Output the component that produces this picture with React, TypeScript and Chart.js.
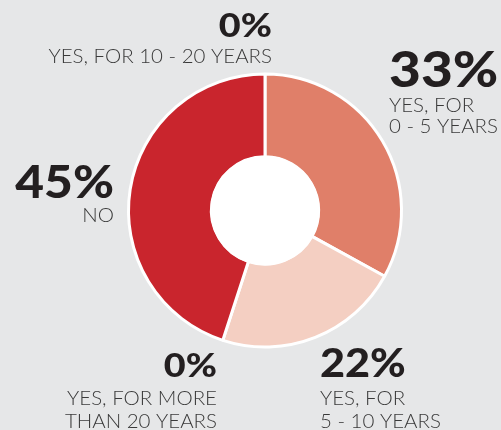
import React, { useEffect, useRef } from "react";
import { Chart, registerables } from "chart.js";

Chart.register(...registerables);

// Data (clockwise from 12 o'clock)
const categories = [
  "YES, FOR 0 - 5 YEARS",
  "YES, FOR 5 - 10 YEARS",
  "YES, FOR MORE THAN 20 YEARS",
  "NO",
  "YES, FOR 10 - 20 YEARS",
];
const values = [33, 22, 0, 45, 0];
const sliceColors = ["#e07f69", "#f4cfc2", "#cc2a30", "#c9252d", "#cc2a30"];
const labelLines = [
  ["YES, FOR", "0 - 5 YEARS"],
  ["YES, FOR", "5 - 10 YEARS"],
  ["YES, FOR MORE", "THAN 20 YEARS"],
  ["NO"],
  ["YES, FOR 10 - 20 YEARS"],
];

// Label placement relative to the doughnut centre (layout only)
const labelLayout = [
  { align: "left", dx: 124, dy: -123.5, num: 50, stretch: 1.1, lineDy: [25, 46] },
  { align: "left", dx: 55, dy: 166.5, num: 40, stretch: 1.08, lineDy: [28, 51] },
  { align: "right", dx: -48, dy: 166.5, num: 32, stretch: 1.18, lineDy: [28, 51] },
  { align: "right", dx: -151, dy: -12.5, num: 46, stretch: 1.08, lineDy: [24] },
  { align: "right", dx: 7, dy: -173.5, num: 32, stretch: 1.18, lineDy: [26] },
];

const BG = "#e6e7e8";

export default function App() {
  const ref = useRef<HTMLCanvasElement | null>(null);

  useEffect(() => {
    document.body.style.margin = "0";
    document.body.style.background = BG;
    const canvas = ref.current;
    if (!canvas) return;

    const bgPlugin = {
      id: "bg",
      beforeDraw(chart: any) {
        const { ctx, width, height } = chart;
        ctx.save();
        ctx.fillStyle = BG;
        ctx.fillRect(0, 0, width, height);
        ctx.restore();
      },
    };

    const labelPlugin = {
      id: "labels",
      afterDatasetsDraw(chart: any) {
        const meta = chart.getDatasetMeta(0);
        const arc = meta.data[0];
        if (!arc) return;
        const cx = arc.x;
        const cy = arc.y;
        const inner = meta.controller.innerRadius;
        const { ctx } = chart;
        ctx.save();
        // white hole
        ctx.beginPath();
        ctx.arc(cx, cy, inner + 1, 0, Math.PI * 2);
        ctx.fillStyle = "#ffffff";
        ctx.fill();

        values.forEach((v, i) => {
          const L = labelLayout[i];
          const x = cx + L.dx;
          const y = cy + L.dy;
          ctx.textAlign = L.align;
          ctx.textBaseline = "alphabetic";
          ctx.fillStyle = "#231f20";
          ctx.font = `900 ${L.num}px Lato, "DejaVu Sans", sans-serif`;
          ctx.save();
          ctx.translate(x, y);
          ctx.scale(L.stretch, 1);
          ctx.fillText(`${v}%`, 0, 0);
          ctx.restore();
          ctx.fillStyle = "#3a3a3a";
          ctx.font = `300 20.5px Lato, "DejaVu Sans", sans-serif`;
          labelLines[i].forEach((line, j) => {
            ctx.fillText(line, x, y + L.lineDy[j]);
          });
        });
        ctx.restore();
      },
    };

    const chart = new Chart(canvas, {
      type: "doughnut",
      data: {
        labels: categories,
        datasets: [
          {
            data: values,
            backgroundColor: sliceColors,
            borderColor: "#ffffff",
            borderWidth: 3,
            hoverOffset: 0,
          },
        ],
      },
      options: {
        responsive: false,
        animation: false,
        radius: 136.5,
        cutout: "39.3%",
        rotation: 0,
        layout: { padding: { left: 40, right: 11, top: 0, bottom: 9 } },
        plugins: {
          legend: { display: false },
          tooltip: { enabled: false },
        },
      } as any,
      plugins: [bgPlugin, labelPlugin],
    });

    return () => chart.destroy();
  }, []);

  return (
    <div style={{ width: 501, height: 430, background: BG }}>
      <canvas ref={ref} width={501} height={430} style={{ display: "block" }} />
    </div>
  );
}
